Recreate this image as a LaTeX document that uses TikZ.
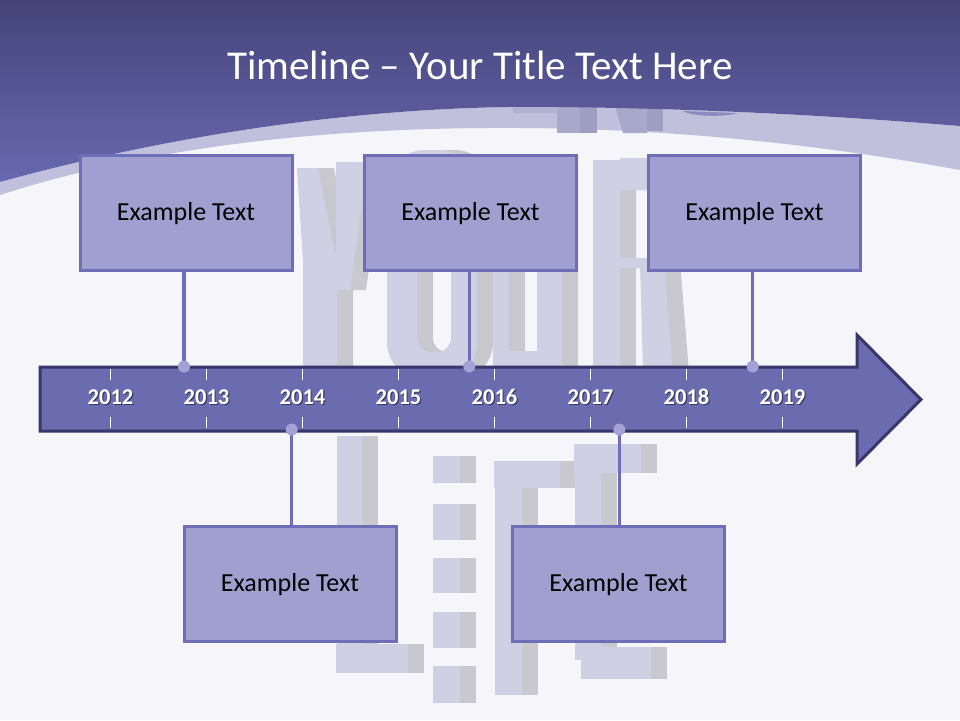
\documentclass[tikz,border=0pt]{standalone}
\usepackage{fontspec}
\setmainfont{Carlito}
\definecolor{bgc}{HTML}{F5F5FA}
\definecolor{hdtop}{HTML}{44447A}
\definecolor{hdbot}{HTML}{6868B0}
\definecolor{bandc}{HTML}{C0C0DC}
\definecolor{facec}{HTML}{CFD0E3}
\definecolor{shadc}{HTML}{C8C8CE}
\definecolor{boxfill}{HTML}{A0A0D0}
\definecolor{boxline}{HTML}{6E6EB8}
\definecolor{arrfill}{HTML}{6B6BAF}
\definecolor{arrline}{HTML}{38366A}
\definecolor{dotc}{HTML}{A2A2D6}
\definecolor{patchA}{HTML}{A8A8CA}
\definecolor{patchB}{HTML}{9E9EC2}
\newcommand{\lifeshapes}{%
  % Y
  \fill (297,168) -- (318,168) -- (337,262) -- (337,372) -- (303,372) -- (303,262) -- cycle;
  \fill (336,162) -- (368,162) -- (350,290) -- (336,290) -- cycle;
  % O
  \fill[even odd rule, rounded corners=38pt] (387,150) rectangle (477,380)
     [rounded corners=14pt] (417,200) rectangle (451,352);
  % U
  \fill (493,165) -- (509,165) -- (509,351) -- (537,351) -- (537,165) -- (562,165) -- (562,372) -- (493,372) -- cycle;
  % R
  \fill (593,160) rectangle (620,372);
  \fill[even odd rule] (620,158) -- (650,158) .. controls (688,160) and (688,266) .. (650,268) -- (620,268) -- cycle
     (620,190) -- (648,190) -- (648,258) -- (620,258) -- cycle;
  \fill (640,262) -- (664,262) -- (673,372) -- (643,372) -- cycle;
  % L
  \fill (337,436) rectangle (362,672);
  \fill (336,644) rectangle (408,673);
  % i
  \fill (433,456) rectangle (460,483);
  \fill (433,504) rectangle (460,540);
  \fill (433,558) rectangle (460,593);
  \fill (433,612) rectangle (460,648);
  \fill (433,666) rectangle (460,703);
  % F
  \fill (495,461) rectangle (522,695);
  \fill (494,461) rectangle (560,488);
  % E
  \fill (575,444) rectangle (601,660);
  \fill (574,444) rectangle (641,473);
  \fill (581,647) rectangle (651,679);
}
\tikzset{
  boxnode/.style={draw=boxline, fill=boxfill, line width=3pt, minimum width=212pt,
    minimum height=115pt, inner sep=0pt, text height=16.7pt, text depth=0pt,
    font=\fontsize{26}{30}\selectfont, text=black},
  conn/.style={draw=boxline, line width=3.5pt},
  dotnode/.style={circle, fill=dotc, minimum size=12pt, inner sep=0pt},
  yr/.style={anchor=base, text=white, font=\fontsize{22.5}{26}\selectfont\bfseries, inner sep=0pt},
  yrshadow/.style={anchor=base, text=black, opacity=0.45, font=\fontsize{22.5}{26}\selectfont\bfseries, inner sep=0pt},
  tickline/.style={draw=white, line width=1pt},
  titlenode/.style={anchor=base, text=white, font=\fontsize{41}{48}\selectfont, inner sep=0pt}
}
\begin{document}
\begin{tikzpicture}[x=1pt, y=-1pt]
  \useasboundingbox (0,0) rectangle (960,720);
  \fill[bgc] (0,0) rectangle (960,720);
  % background letters
  \begin{scope}[xshift=16pt, fill=shadc]
    \lifeshapes
  \end{scope}
  \begin{scope}[fill=facec]
    \lifeshapes
  \end{scope}
  % band
  \fill[bandc] (0,182) .. controls (170,135) and (370,104) .. (560,107)
     .. controls (720,109) and (850,117) .. (960,126) -- (960,170)
     .. controls (850,150) and (700,129) .. (520,128)
     .. controls (360,127) and (170,140) .. (0,195) -- cycle;
  % faint letters on band
  \fill[patchA] (557,100) rectangle (580,133);
  \fill[patchB] (580,100) rectangle (597,133);
  \fill[patchA] (613,100) -- (647,100) -- (647,133) -- (623,133) -- cycle;
  \fill[patchB] (647,100) rectangle (663,131);
  \fill[patchA!60!bandc] (513,100) rectangle (557,113);
  % header
  \shade[top color=hdtop, bottom color=hdbot] (0,0) -- (960,0) -- (960,126)
     .. controls (850,117) and (720,109) .. (560,107)
     .. controls (370,104) and (170,135) .. (0,182) -- cycle;
  \fill[hdbot!60!bandc] (683,111) .. controls (692,117) and (728,117) .. (737,113) -- cycle;
  \node[titlenode] (title) at (480,79.5) {Timeline – Your Title Text Here};
  % arrow
  \draw[line width=3pt, draw=arrline, fill=arrfill] (40,367) -- (857,367) -- (857,335)
     -- (921,399.5) -- (857,464) -- (857,431) -- (40,431) -- cycle;
  \foreach \i/\yy in {0/2012,1/2013,2/2014,3/2015,4/2016,5/2017,6/2018,7/2019} {
    \draw[tickline] ({110.5+96*\i},369) -- ++(0,11);
    \draw[tickline] ({110.5+96*\i},417) -- ++(0,11);
    \node[yrshadow] (ys\yy) at ({111.7+96*\i},405.2) {\yy};
    \node[yr] (y\yy) at ({110.5+96*\i},404) {\yy};
  }
  % boxes
  \node[boxnode] (b1) at (186,212.5) {Example Text};
  \node[boxnode] (b2) at (470.5,212.5) {Example Text};
  \node[boxnode] (b3) at (754.5,212.5) {Example Text};
  \node[boxnode] (b4) at (290,583.5) {Example Text};
  \node[boxnode] (b5) at (618.5,583.5) {Example Text};
  % dots
  \coordinate (c1) at (184,366.5);
  \coordinate (c2) at (469.3,366.5);
  \coordinate (c3) at (752.7,366.5);
  \coordinate (c4) at (291.7,429.5);
  \coordinate (c5) at (619.3,429.5);
  \draw[conn] (b1.south -| c1) -- (c1);
  \draw[conn] (b2.south -| c2) -- (c2);
  \draw[conn] (b3.south -| c3) -- (c3);
  \draw[conn] (b4.north -| c4) -- (c4);
  \draw[conn] (b5.north -| c5) -- (c5);
  \node[dotnode] (d1) at (c1) {};
  \node[dotnode] (d2) at (c2) {};
  \node[dotnode] (d3) at (c3) {};
  \node[dotnode] (d4) at (c4) {};
  \node[dotnode] (d5) at (c5) {};
\end{tikzpicture}
\end{document}
